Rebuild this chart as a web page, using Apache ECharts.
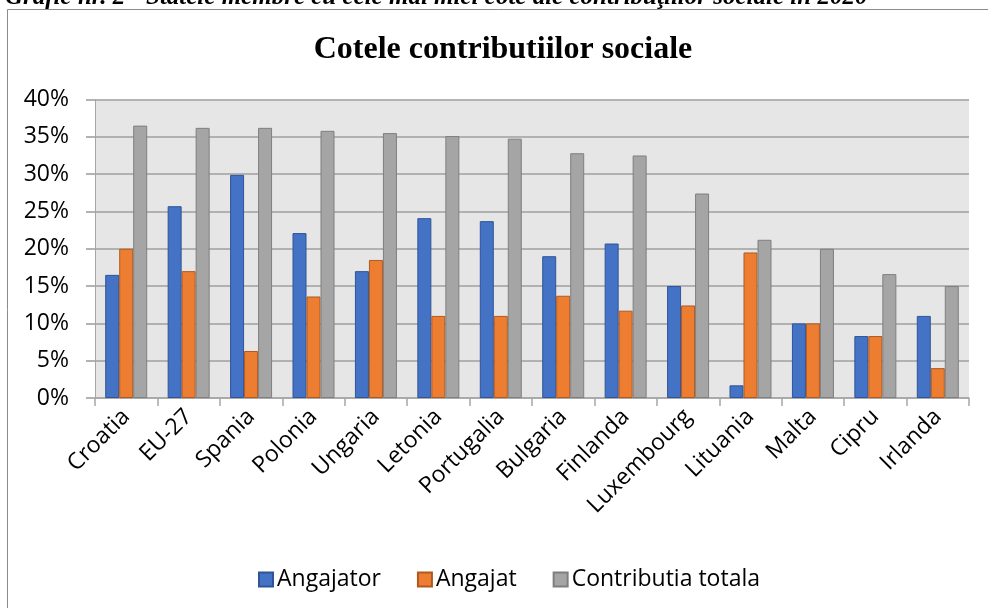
<!DOCTYPE html>
<html>
<head>
<meta charset="utf-8">
<script src="https://cdn.jsdelivr.net/npm/echarts@6/dist/echarts.min.js"></script>
<style>
  html, body { margin: 0; padding: 0; background: #ffffff; }
  #chart { width: 988px; height: 608px; }
</style>
</head>
<body>
<div id="chart"></div>
<script>
// Social contribution rates by member state (percent)
const categories = ['Croatia', 'EU-27', 'Spania', 'Polonia', 'Ungaria', 'Letonia', 'Portugalia',
  'Bulgaria', 'Finlanda', 'Luxembourg', 'Lituania', 'Malta', 'Cipru', 'Irlanda'];
const angajator = [16.5, 25.7, 29.9, 22.1, 17.0, 24.1, 23.7, 19.0, 20.7, 15.0, 1.7, 10.0, 8.3, 11.0];
const angajat = [20.0, 17.0, 6.3, 13.6, 18.5, 11.0, 11.0, 13.7, 11.7, 12.4, 19.5, 10.0, 8.3, 4.0];
const totala = [36.5, 36.2, 36.2, 35.8, 35.5, 35.1, 34.75, 32.8, 32.5, 27.4, 21.2, 20.0, 16.6, 15.0];
const seriesNames = ['Angajator', 'Angajat', 'Contributia totala'];

const captionText = 'Grafic nr. 2 - Statele membre cu cele mai mici cote ale contribuţiilor sociale în 2020';
const titleText = 'Cotele contributiilor sociale';

const fills = ['#4472C4', '#ED7D31', '#A5A5A5'];
const edges = ['#2F5597', '#B0591F', '#7F7F7F'];
const sans = '"Open Sans", "Noto Sans", sans-serif';

const chart = echarts.init(document.getElementById('chart'), null, { renderer: 'canvas' });

function barSeries(idx, values) {
  return {
    name: seriesNames[idx],
    type: 'bar',
    data: values,
    barWidth: 14,
    barGap: '0%',
    itemStyle: { color: fills[idx], borderColor: edges[idx], borderWidth: 1 }
  };
}

chart.setOption({
  animation: false,
  backgroundColor: '#ffffff',
  title: {
    text: titleText,
    left: 498,
    top: 29,
    textAlign: 'center',
    textStyle: { fontFamily: '"Liberation Serif", "Times New Roman", serif', fontWeight: 'bold', fontSize: 32, color: '#000' }
  },
  graphic: [
    {
      type: 'rect',
      z: -10,
      shape: { x: 7.5, y: 9.5, width: 1000, height: 700 },
      style: { fill: 'none', stroke: '#8c8c8c', lineWidth: 1 }
    },
    {
      type: 'text',
      left: 5,
      top: -15,
      style: {
        text: captionText,
        font: 'italic bold 25px "Liberation Serif", "Times New Roman", serif',
        fill: '#000'
      }
    }
  ],
  legend: {
    data: seriesNames,
    left: 253,
    top: 563,
    icon: 'rect',
    itemWidth: 14,
    itemHeight: 14,
    itemGap: 36,
    textStyle: { fontFamily: sans, fontSize: 23, color: '#000', padding: [0, 0, 0, -1] }
  },
  grid: {
    left: 95,
    right: 19,
    top: 99.5,
    bottom: 210,
    containLabel: false,
    outerBoundsMode: 'none',
    show: true,
    backgroundColor: '#E7E6E6',
    borderWidth: 0
  },
  xAxis: {
    type: 'category',
    data: categories,
    axisLine: { lineStyle: { color: '#a6a6a6', width: 1.5 } },
    axisTick: { show: true, length: 8, lineStyle: { color: '#a6a6a6', width: 1.5 } },
    axisLabel: { rotate: 45, interval: 0, margin: 15, fontFamily: sans, fontSize: 23, color: '#000' },
    splitLine: { show: false }
  },
  yAxis: {
    type: 'value',
    min: 0,
    max: 40,
    interval: 5,
    axisLine: { show: true, lineStyle: { color: '#a6a6a6', width: 1 } },
    axisTick: { show: true, length: 9, lineStyle: { color: '#999999', width: 1.5 } },
    axisLabel: { formatter: '{value}%', margin: 26, fontFamily: sans, fontSize: 23, color: '#000' },
    splitLine: { show: true, lineStyle: { color: '#9f9f9f', width: 1.5 } }
  },
  series: [barSeries(0, angajator), barSeries(1, angajat), barSeries(2, totala)]
});
</script>
</body>
</html>
